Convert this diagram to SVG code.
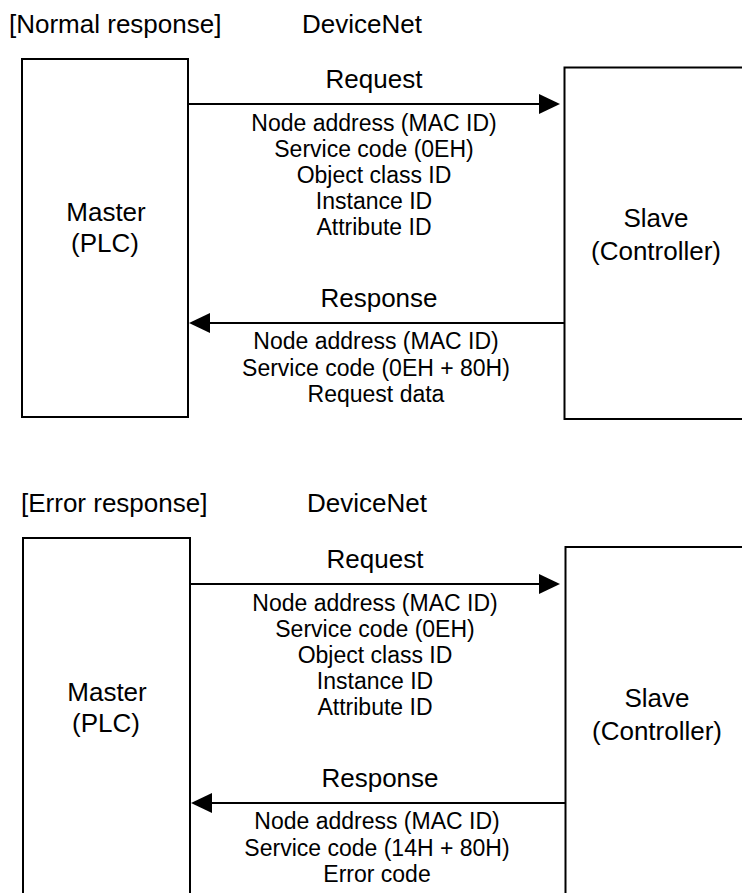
<svg xmlns="http://www.w3.org/2000/svg" width="742" height="893" viewBox="0 0 742 893">
  <style>
    text { font-family: "Liberation Sans", Arial, Helvetica, sans-serif; fill: #000; }
    .h { font-size: 26px; }
    .c { font-size: 26px; text-anchor: middle; }
    .d { font-size: 23px; text-anchor: middle; }
    .box { fill: #fff; stroke: #000; stroke-width: 2; }
    .conn { fill: none; stroke: #000; stroke-width: 1.8; marker-end: url(#arrow); }
  </style>
  <defs>
    <marker id="arrow" viewBox="0 0 21 20" refX="19" refY="10" markerWidth="21" markerHeight="20" markerUnits="userSpaceOnUse" orient="auto">
      <path d="M0,0 L21,10 L0,20 Z" fill="#000"/>
    </marker>
  </defs>
  <rect x="0" y="0" width="742" height="893" fill="#fff"/>

  <!-- Normal response section -->
  <text class="h" x="9" y="33">[Normal response]</text>
  <text class="h" x="302" y="33">DeviceNet</text>

  <g id="master1">
    <rect class="box" x="22" y="59" width="166" height="358"/>
    <text class="c" x="106" y="221">Master</text>
    <text class="c" x="105" y="252">(PLC)</text>
  </g>
  <g id="slave1">
    <rect class="box" x="564.5" y="67.5" width="200" height="351.5"/>
    <text class="c" x="656" y="227">Slave</text>
    <text class="c" x="656" y="260">(Controller)</text>
  </g>

  <!-- Error response section -->
  <text class="h" x="21" y="512">[Error response]</text>
  <text class="h" x="307" y="512">DeviceNet</text>

  <g id="master2">
    <rect class="box" x="23" y="538" width="167" height="362"/>
    <text class="c" x="107" y="701">Master</text>
    <text class="c" x="106" y="732">(PLC)</text>
  </g>
  <g id="slave2">
    <rect class="box" x="565.5" y="547" width="200" height="360"/>
    <text class="c" x="657" y="707">Slave</text>
    <text class="c" x="657" y="740">(Controller)</text>
  </g>

  <g id="connectors">
    <g id="req1">
      <path class="conn" d="M188,104 H558"/>
      <text class="c" x="374" y="88">Request</text>
      <text class="d" x="374" y="131">Node address (MAC ID)</text>
      <text class="d" x="374" y="157">Service code (0EH)</text>
      <text class="d" x="374" y="183">Object class ID</text>
      <text class="d" x="374" y="209">Instance ID</text>
      <text class="d" x="374" y="235">Attribute ID</text>
    </g>
    <g id="resp1">
      <path class="conn" d="M565,323 H191"/>
      <text class="c" x="379" y="307">Response</text>
      <text class="d" x="376" y="349">Node address (MAC ID)</text>
      <text class="d" x="376" y="376">Service code (0EH + 80H)</text>
      <text class="d" x="376" y="402">Request data</text>
    </g>
    <g id="req2">
      <path class="conn" d="M190,584 H558"/>
      <text class="c" x="375" y="568">Request</text>
      <text class="d" x="375" y="611">Node address (MAC ID)</text>
      <text class="d" x="375" y="637">Service code (0EH)</text>
      <text class="d" x="375" y="663">Object class ID</text>
      <text class="d" x="375" y="689">Instance ID</text>
      <text class="d" x="375" y="715">Attribute ID</text>
    </g>
    <g id="resp2">
      <path class="conn" d="M566,803 H193"/>
      <text class="c" x="380" y="787">Response</text>
      <text class="d" x="377" y="829">Node address (MAC ID)</text>
      <text class="d" x="377" y="856">Service code (14H + 80H)</text>
      <text class="d" x="377" y="882">Error code</text>
    </g>
  </g>
</svg>
